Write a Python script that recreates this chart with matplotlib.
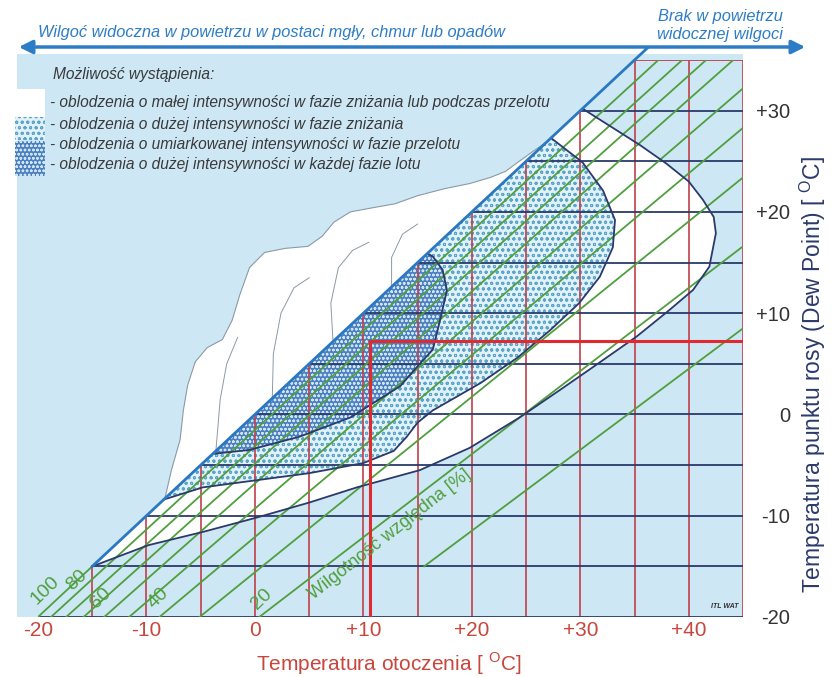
import matplotlib
matplotlib.use('Agg')
import matplotlib.pyplot as plt
from matplotlib.patches import Polygon, Rectangle, FancyArrowPatch
from matplotlib import font_manager

# ---------------- data ----------------
x_ticks = [-20, -10, 0, 10, 20, 30, 40]
x_ticklabels = ['-20', '-10', '0', '+10', '+20', '+30', '+40']
y_ticks = [-20, -10, 0, 10, 20, 30]
y_ticklabels = ['-20', '-10', '0', '+10', '+20', '+30']
grid_T = [-15, -10, -5, 0, 5, 10, 15, 20, 25, 30, 35, 40, 45]
grid_Td = [-20, -15, -10, -5, 0, 5, 10, 15, 20, 25, 30, 35]

# relative humidity lines (start / end points)
rh_values = [100, 90, 80, 70, 60, 50, 40, 30, 20, 10]
rh_T0 = [-20, -18.8, -17.4, -15.8, -13.9, -11.6, -8.8, -5.1, 0.4, 15.6]
rh_Td0 = [-20, -20, -20, -20, -20, -20, -20, -20, -20, -15]
rh_T1 = [-15, 37.2, 39.4, 41.6, 44.1, 45, 45, 45, 45, 45]
rh_Td1 = [-15, 35, 35, 35, 35, 32.2, 28.3, 23.4, 16.6, 8.5]
rh_label_text = ['100', '80', '60', '40', '20']
rh_label_T = [-19.3, -16.4, -14.2, -8.9, 0.6]
rh_label_Td = [-17.4, -16.4, -18.1, -18.1, -18.2]

# saturation line (dew point = temperature)
sat_T = [-15, 36.2]
sat_Td = [-15, 36.2]

# example reading (red lines)
example_T = 10.6
example_Td = 7.3

# region: light icing (white)
outer_T = [-15, 30.2, 33.0, 35.5, 37.9, 40.0, 41.3, 42.3, 42.5, 41.9, 40.4, 38.2, 35.2,
           31.2, 28.1, 24.4, 19.8, 15.2, 9.4, 5.0, 0.1, -4.8, -9.8, -15]
outer_Td = [-15, 30.2, 28.3, 26.6, 24.8, 23.0, 21.2, 19.5, 17.9, 14.6, 12.3, 10.3, 7.7,
            4.7, 2.4, -0.3, -3.3, -5.5, -7.2, -8.7, -10.2, -11.6, -12.9, -15]

# region: serious icing descent / moderate cruise (light dotted)
mid_T = [-8.4, 27.3, 30.2, 32.1, 33.2, 33.0, 31.8, 29.9, 27.2, 24.2, 20.8, 16.4, 15.0,
         14.0, 12.8, 10.0, 5.0, 0.1, -4.8, -8.4]
mid_Td = [-8.4, 27.3, 24.9, 22.1, 19.2, 16.5, 13.6, 11.0, 8.3, 5.6, 3.1, 0.4, -0.8,
          -2.2, -3.6, -4.8, -5.8, -6.5, -7.2, -8.4]

# region: serious icing any phase (dark dotted)
dark_T = [-3.9, 15.9, 16.4, 17.3, 17.7, 17.5, 17.0, 16.4, 15.2, 13.4, 8.8, 4.1, -0.5, -3.9]
dark_Td = [-3.9, 15.9, 15.6, 14.3, 12.3, 11.3, 9.0, 6.4, 5.0, 2.8, -0.3, -2.2, -3.5, -3.9]

# cloud outline
cloud_T = [-8.3, -7.7, -6.9, -6.6, -6.2, -5.5, -4.4, -3.0, -2.1, -1.4, -0.5, 0.9, 2.8, 4.9,
           6.2, 7.3, 8.8, 10.8, 12.9, 15.0, 17.5, 19.8, 21.7, 23.1, 24.5, 25.8, 26.9]
cloud_Td = [-8.3, -5.5, -2.5, 0.4, 2.9, 5.2, 6.6, 7.4, 9.3, 11.8, 14.5, 16.0, 16.4, 16.6,
            17.6, 19.0, 20.0, 20.4, 20.8, 21.6, 22.3, 22.8, 23.4, 24.0, 25.1, 26.1, 26.9]
# inner cloud lobes
lobes = [
    ([-3.6, -3.2, -2.6, -1.6], [-3.6, 1.5, 5.0, 7.6]),
    ([1.6, 1.7, 2.4, 3.6, 5.0], [1.6, 6.0, 10.0, 12.5, 13.5]),
    ([7.2, 7.0, 7.7, 9.0, 10.5], [7.2, 11.0, 14.5, 16.2, 17.0]),
    ([12.6, 12.6, 13.6, 15.0], [12.6, 15.5, 17.8, 18.8]),
]

# ---------------- style ----------------
names = {f.name for f in font_manager.fontManager.ttflist}
SANS = 'Liberation Sans' if 'Liberation Sans' in names else 'DejaVu Sans'
NARROW = 'Liberation Sans Narrow' if 'Liberation Sans Narrow' in names else SANS
plt.rcParams['font.family'] = [SANS, 'DejaVu Sans']
plt.rcParams['mathtext.fontset'] = 'custom'
plt.rcParams['mathtext.rm'] = SANS
plt.rcParams['hatch.linewidth'] = 0.7

BG = '#cde7f4'
RED = '#c0404a'
LRED = '#c8463c'
NAVY = '#2b3a6b'
GREEN = '#4f9f3e'
SATBLUE = '#2a78c2'
ABLUE = '#2d7dc6'
TXT = '#3a3a3a'
MIDFACE = '#e2f1f8'
MIDHATCH = '#5aa6c9'
DARKFACE = '#4a7fc0'
DARKHATCH = '#cfe3f3'

W, H = 833, 677
fig = plt.figure(figsize=(W / 100, H / 100), dpi=100)
fig.patch.set_facecolor('white')
ax = fig.add_axes([38 / W, 60 / H, (743 - 38) / W, (617 - 60) / H])
ax.set_xlim(-20, 45)
ax.set_ylim(-20, 35)
ax.patch.set_visible(False)
for s in ax.spines.values():
    s.set_visible(False)


def fx(px):
    return px / W


def fy(py):
    return 1 - py / H


# background
ax.add_patch(Rectangle((-21.9, -20), 66.9, 55.6, fc=BG, ec='none', zorder=0, clip_on=False))

# regions
ax.fill(outer_T, outer_Td, fc='white', ec='none', zorder=1)
ax.fill(mid_T, mid_Td, fc=MIDFACE, ec='none', zorder=1.2)
ax.add_patch(Polygon(list(zip(mid_T, mid_Td)), closed=True, fc='none', ec=MIDHATCH,
                     lw=0, hatch='ooo', zorder=1.3))
ax.fill(dark_T, dark_Td, fc=DARKFACE, ec='none', zorder=1.4)
ax.add_patch(Polygon(list(zip(dark_T, dark_Td)), closed=True, fc='none', ec=DARKHATCH,
                     lw=0, hatch='oooo', zorder=1.5))

# grid
for T in grid_T:
    top = min(T, 35)
    ax.plot([T, T], [-20, top], color=RED, lw=1.2, zorder=3, solid_capstyle='butt')
for Td in grid_Td:
    start = max(Td, -20)
    c = RED if Td == 35 else NAVY
    ax.plot([start, 45], [Td, Td], color=c, lw=1.3, zorder=3, solid_capstyle='butt')

# humidity lines
for t0, d0, t1, d1 in zip(rh_T0, rh_Td0, rh_T1, rh_Td1):
    ax.plot([t0, t1], [d0, d1], color=GREEN, lw=1.3, zorder=3.5)
for txt, t, d in zip(rh_label_text, rh_label_T, rh_label_Td):
    ax.text(t, d, txt, color=GREEN, fontsize=14, rotation=44, ha='center', va='center',
            zorder=6)
ax.text(5.6, -18.6, 'Wilgotność względna [%]', color=GREEN, fontsize=13, rotation=38,
        ha='left', va='bottom', rotation_mode='anchor', zorder=6)

# region outlines
for tt, dd in ((outer_T, outer_Td), (mid_T, mid_Td), (dark_T, dark_Td)):
    ax.plot(tt[1:], dd[1:], color=NAVY, lw=1.3, zorder=4)

# example lines
ax.plot([example_T, example_T], [-20, example_Td], color='#e02a30', lw=2.2, zorder=4.5)
ax.plot([example_T, 45], [example_Td, example_Td], color='#e02a30', lw=2.2, zorder=4.5)

# cloud
ax.fill(cloud_T, cloud_Td, fc='white', ec='#8a9aa6', lw=0.8, zorder=4.6)
for lt, ld in lobes:
    ax.plot(lt, ld, color='#8a9aa6', lw=0.7, zorder=4.7)

# saturation line
ax.plot(sat_T, sat_Td, color=SATBLUE, lw=2.0, zorder=5, clip_on=False)

# ticks
ax.set_xticks(x_ticks)
ax.set_xticklabels(x_ticklabels)
ax.tick_params(axis='x', length=0, pad=3, labelsize=15, labelcolor=LRED)
ax.yaxis.tick_right()
ax.set_yticks(y_ticks)
ax.set_yticklabels(y_ticklabels)
ax.tick_params(axis='y', length=0, pad=34, labelsize=14.5, labelcolor='#333333')
for lab in ax.get_yticklabels():
    lab.set_ha('right')

# axis titles
fig.text(fx(389), fy(664), 'Temperatura otoczenia [ $^{\\mathrm{O}}$C]', color=LRED,
         fontsize=15, ha='center', va='center')
fig.text(fx(813), fy(374), 'Temperatura punktu rosy (Dew Point) [ $^{\\mathrm{O}}$C]',
         color=NAVY, fontsize=16.5, ha='center', va='center', rotation=90)

# top arrow and texts
fig.patches.append(FancyArrowPatch((fx(16), fy(47)), (fx(808), fy(47)), transform=fig.transFigure,
                                   arrowstyle='<|-|>', mutation_scale=20, lw=2.5, color=ABLUE))
fig.text(fx(38), fy(33), 'Wilgoć widoczna w powietrzu w postaci mgły, chmur lub opadów',
         color=ABLUE, fontsize=11.8, style='italic', ha='left', va='center', family=[NARROW, SANS])
fig.text(fx(720), fy(17), 'Brak w powietrzu', color=ABLUE, fontsize=11.8, style='italic',
         ha='center', va='center', family=[NARROW, SANS])
fig.text(fx(720), fy(35), 'widocznej wilgoci', color=ABLUE, fontsize=11.8, style='italic',
         ha='center', va='center', family=[NARROW, SANS])

# legend
fig.text(fx(53), fy(74), 'Możliwość wystąpienia:', color=TXT, fontsize=11.2, style='italic',
         ha='left', va='center', family=[NARROW, SANS])
fig.patches.append(Rectangle((fx(15), fy(117)), 30 / W, 28 / H, transform=fig.transFigure,
                             fc='white', ec='none'))
fig.patches.append(Rectangle((fx(15), fy(140)), 30 / W, 23 / H, transform=fig.transFigure,
                             fc=MIDFACE, ec='none'))
fig.patches.append(Rectangle((fx(15), fy(140)), 30 / W, 23 / H, transform=fig.transFigure,
                             fc='none', ec=MIDHATCH, lw=0, hatch='ooo'))
fig.patches.append(Rectangle((fx(15), fy(176)), 30 / W, 35 / H, transform=fig.transFigure,
                             fc=DARKFACE, ec='none'))
fig.patches.append(Rectangle((fx(15), fy(176)), 30 / W, 35 / H, transform=fig.transFigure,
                             fc='none', ec=DARKHATCH, lw=0, hatch='oooo'))
legend_lines = [
    '- oblodzenia o małej intensywności w fazie zniżania lub podczas przelotu',
    '- oblodzenia o dużej intensywności w fazie zniżania',
    '- oblodzenia o umiarkowanej intensywności w fazie przelotu',
    '- oblodzenia o dużej intensywności w każdej fazie lotu',
]
legend_y = [103, 124, 144, 164]
for t, py in zip(legend_lines, legend_y):
    fig.text(fx(50), fy(py), t, color=TXT, fontsize=11.2, style='italic', ha='left',
             va='center', family=[NARROW, SANS])

ax.text(43.3, -19.0, 'ITL WAT', fontsize=5, style='italic', weight='bold', color='#333333',
        ha='center', va='center', zorder=6)

fig.savefig('out.png', dpi=100)
